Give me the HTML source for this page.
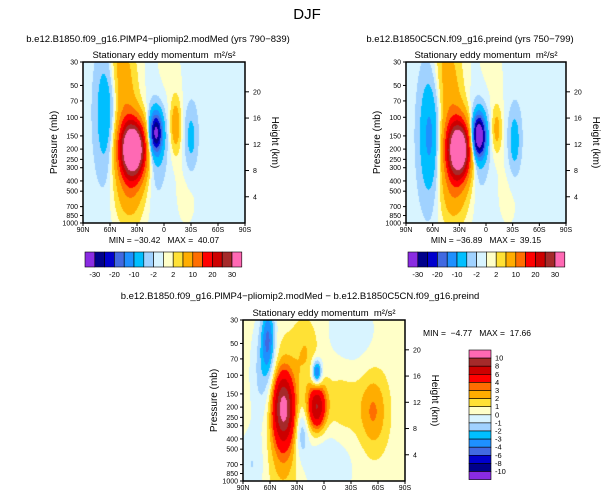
<!DOCTYPE html>
<html><head><meta charset="utf-8"><style>
body{margin:0;background:#fff;width:615px;height:500px;position:relative;overflow:hidden;font-family:"Liberation Sans",sans-serif;color:#000}
svg{position:absolute;left:0;top:0}
text{font-family:"Liberation Sans",sans-serif;white-space:pre}
</style></head><body>
<svg id="chart" width="615" height="500"></svg>
<canvas id="cv" width="615" height="500" style="position:absolute;left:0;top:0"></canvas>
<svg id="ov" width="615" height="500"></svg>
<script>
// ---- data ----
const latTicks=["90N","60N","30N","0","30S","60S","90S"];
const presTicks=[30,50,70,100,150,200,250,300,400,500,700,850,1000];
const heightTicks=[4,8,12,16,20];
const levelsAbs=[-30,-25,-20,-15,-10,-5,-2,0,2,5,10,15,20,25,30];
const levelsDiff=[-10,-8,-6,-4,-3,-2,-1,0,1,2,3,4,6,8,10];
const labelsAbs=["-30","-20","-10","-2","2","10","20","30"];
const labelsDiff=["10","8","6","4","3","2","1","0","-1","-2","-3","-4","-6","-8","-10"];
const colors=["#8a2be2","#00008b","#0000cd","#4169e1","#1e90ff","#00bfff","#a0d2ff","#d8f4ff","#ffffc8","#ffe135","#ffad00","#ff6e00","#ff0000","#cd0000","#a52a2a","#ff69b4"];
// blobs: lat, pressure, amplitude, lat sigma, ln-p sigma
const p1Lat=[64,34,44,38,9,10,-13,-30,52,-5,-25];
const p1Pres=[90,200,70,500,140,180,120,160,30,40,500];
const p1Amp=[-9,42,8,8,-28,-7,9,-6,3,1.5,1.5];
const p1SL=[8,11,11,12,5,8,4,5,9,15,12];
const p1SP=[0.9,0.45,1.0,0.6,0.3,0.6,0.4,0.5,0.5,1,0.8];
const p1Bg=-1;
const p2Lat=[63,30,40,36,8,9,-12,-32,48,-5,-25];
const p2Pres=[150,200,80,500,150,170,130,170,30,40,500];
const p2Amp=[-11,40,8,8,-38,-7,7,-7,3,1.5,1.5];
const p2SL=[8,10,11,12,5,8,4,5,9,15,12];
const p2SP=[0.9,0.45,1.0,0.6,0.3,0.6,0.35,0.5,0.5,1,0.8];
const p2Bg=-1;
const p3Lat=[45,45,62,68,8,8,25,-55,-20,20,80,-30,-5];
const p3Pres=[200,300,45,100,200,95,350,220,200,60,700,40,650];
const p3Amp=[8,3,-4,-2,7.5,-5.5,-2.5,2.6,1.2,1.5,-1.5,-1.2,-1.5];
const p3SL=[8,12,5.5,9,7,4,5,11,15,10,10,20,20];
const p3SP=[0.5,1.0,0.55,0.8,0.35,0.2,0.4,0.6,0.6,0.5,0.5,0.6,0.6];
const p3Bg=0.5;

const panels=[
 {x0:83,x1:245,y0:62,y1:223,lat:p1Lat,pres:p1Pres,amp:p1Amp,sl:p1SL,sp:p1SP,bg:p1Bg,lev:levelsAbs,name:"panel-pliomip2"},
 {x0:406,x1:566,y0:62,y1:223,lat:p2Lat,pres:p2Pres,amp:p2Amp,sl:p2SL,sp:p2SP,bg:p2Bg,lev:levelsAbs,name:"panel-preind"},
 {x0:243,x1:405,y0:320,y1:481,lat:p3Lat,pres:p3Pres,amp:p3Amp,sl:p3SL,sp:p3SP,bg:p3Bg,lev:levelsDiff,name:"panel-difference"}
];
const NS="http://www.w3.org/2000/svg";
const ov=document.getElementById('ov');
function el(tag,attrs,txt){const e=document.createElementNS(NS,tag);for(const k in attrs)e.setAttribute(k,attrs[k]);if(txt!==undefined)e.textContent=txt;ov.appendChild(e);return e;}
function hex(c){return [parseInt(c.slice(1,3),16),parseInt(c.slice(3,5),16),parseInt(c.slice(5,7),16)];}
const rgb=colors.map(hex);
const ctx=document.getElementById('cv').getContext('2d');
const L=Math.log(1000/30);
function yOfP(P,p){return P.y0+(P.y1-P.y0)*Math.log(p/30)/L;}
function pOfY(P,y){return 30*Math.exp((y-P.y0)/(P.y1-P.y0)*L);}
function latOfX(P,x){return 90-(x-P.x0)/(P.x1-P.x0)*180;}
function bin(v,lev){let i=0;while(i<lev.length&&v>=lev[i])i++;return i;}
panels.forEach(P=>{
 const w=P.x1-P.x0,h=P.y1-P.y0;
 const img=ctx.createImageData(w,h);
 for(let j=0;j<h;j++){const p=pOfY(P,P.y0+j+0.5);const lp=Math.log(p);
  for(let i=0;i<w;i++){const lat=latOfX(P,P.x0+i+0.5);let v=P.bg;
   for(let k=0;k<P.lat.length;k++){const dl=(lat-P.lat[k])/P.sl[k];const dp=(lp-Math.log(P.pres[k]))/P.sp[k];v+=P.amp[k]*Math.exp(-0.5*(dl*dl+dp*dp));}
   const c=rgb[bin(v,P.lev)];const o=(j*w+i)*4;img.data[o]=c[0];img.data[o+1]=c[1];img.data[o+2]=c[2];img.data[o+3]=255;}}
 ctx.putImageData(img,P.x0,P.y0);
 const fr=el('rect',{x:P.x0,y:P.y0,width:w,height:h,fill:'none',stroke:'#000','stroke-width':1.5});
 
 presTicks.forEach(p=>{const y=yOfP(P,p);
  el('line',{x1:P.x0-3,x2:P.x0,y1:y,y2:y,stroke:'#000'});
  const t=el('text',{x:P.x0-5,y:y+2.5,'font-size':7,'text-anchor':'end'},String(p));
  });
 heightTicks.forEach(hk=>{const y=yOfP(P,1000*Math.exp(-hk/7));
  el('line',{x1:P.x1,x2:P.x1+4,y1:y,y2:y,stroke:'#000'});
  const t=el('text',{x:P.x1+8,y:y+2.5,'font-size':7},String(hk));
  });
 latTicks.forEach((s,i)=>{const x=P.x0+i*w/6;
  el('line',{x1:x,x2:x,y1:P.y1,y2:P.y1+3,stroke:'#000'});
  const t=el('text',{x:x,y:P.y1+9,'font-size':7,'text-anchor':'middle'},s);
  });
 const yl=el('text',{x:0,y:0,'font-size':10,'text-anchor':'middle',transform:`translate(${P.x0-26},${(P.y0+P.y1)/2}) rotate(-90)`},'Pressure (mb)');
 
 const hl=el('text',{x:0,y:0,'font-size':10,'text-anchor':'middle',transform:`translate(${P.x1+27},${(P.y0+P.y1)/2}) rotate(90)`},'Height (km)');
 
 const st=el('text',{x:(P.x0+P.x1)/2,y:P.y0-4,'font-size':9.5,'text-anchor':'middle'},'Stationary eddy momentum  m²/s²');
 
});
[[85],[408]].forEach(([cx])=>{const bw=9.8;
 for(let i=0;i<16;i++){const r=el('rect',{x:cx+i*bw,y:252,width:bw,height:15,fill:colors[i],stroke:'#000','stroke-width':0.6});
  }
 labelsAbs.forEach((s,k)=>{const t=el('text',{x:cx+bw*(2*k+1),y:277,'font-size':7.5,'text-anchor':'middle'},s);
  });
});
for(let i=0;i<16;i++){const r=el('rect',{x:469,y:350+i*8.1,width:22,height:8.1,fill:colors[15-i],stroke:'#000','stroke-width':0.6});
 }
labelsDiff.forEach((s,k)=>{const t=el('text',{x:495,y:350+8.1*(k+1)+2.5,'font-size':7.5},s);
 });
function T(x,y,s,fs,anchor,name){const t=el('text',{x:x,y:y,'font-size':fs,'text-anchor':anchor},s);}
T(307,19,'DJF',15,'middle','figure-title');
T(158,42,'b.e12.B1850.f09_g16.PlMP4−pliomip2.modMed (yrs 790−839)',9.5,'middle','left-panel-title');
T(470,42,'b.e12.B1850C5CN.f09_g16.preind (yrs 750−799)',9.5,'middle','right-panel-title');
T(300,299,'b.e12.B1850.f09_g16.PlMP4−pliomip2.modMed − b.e12.B1850C5CN.f09_g16.preind',9.5,'middle','difference-title');
T(164,243,'MIN = −30.42   MAX =  40.07',8.5,'middle','left-minmax');
T(486,243,'MIN = −36.89   MAX =  39.15',8.5,'middle','right-minmax');
T(477,336,'MIN =  −4.77   MAX =  17.66',8.5,'middle','diff-minmax');
</script>
</body></html>
